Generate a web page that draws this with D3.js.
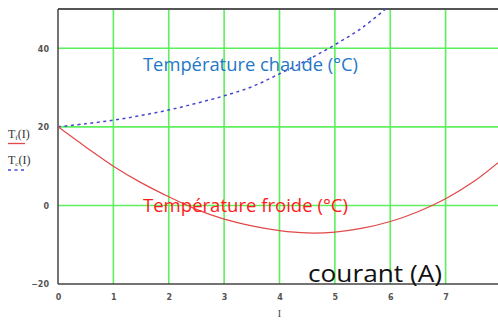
<!DOCTYPE html>
<html>
<head>
<meta charset="utf-8">
<script src="https://cdn.jsdelivr.net/npm/d3@7"></script>
<style>
  body { margin: 0; background: #fff; }
  svg { display: block; }
</style>
</head>
<body>
<svg id="chart"></svg>
<script>
// values
const current = [0, 0.5, 1, 1.5, 2, 2.5, 3, 3.5, 4, 4.5, 5, 5.5, 6, 6.5, 7, 7.5, 8];
const tCold = [20, 14.9, 10, 5.8, 2.2, -1.0, -3.5, -5.2, -6.4, -7, -6.8, -5.8, -4.1, -1.6, 1.7, 6, 11.5];
const currentHot = [0, 0.5, 1, 1.5, 2, 2.5, 3, 3.5, 4, 4.5, 5, 5.5, 6];
const tHot = [20, 20.8, 21.7, 22.9, 24.3, 26, 27.9, 30.2, 33.5, 37, 40.9, 45.3, 51];
const xTicks = [0, 1, 2, 3, 4, 5, 6, 7, 8];
const yTicks = [-20, 0, 20, 40];

// set the dimensions and margins of the graph
const W = 498, H = 320;
const margin = { top: 9, right: -3, bottom: 36, left: 58 };
const width = W - margin.left - margin.right;
const height = H - margin.top - margin.bottom;

const x = d3.scaleLinear().domain([0, 8]).range([0, width]);
const y = d3.scaleLinear().domain([-20, 50]).range([height, 0]);

const root = d3.select("#chart").attr("width", W).attr("height", H);
const svg = root.append("g")
  .attr("transform", "translate(" + margin.left + "," + margin.top + ")");

root.append("defs").append("clipPath").attr("id", "plot")
  .append("rect").attr("x", 0).attr("y", 0).attr("width", width).attr("height", height);

// green grid
svg.selectAll(".vgrid").data(xTicks.filter(d => d > 0)).join("line")
  .attr("x1", d => x(d)).attr("x2", d => x(d))
  .attr("y1", 0).attr("y2", height)
  .attr("stroke", "#5def5d").attr("stroke-width", 1.6);
svg.selectAll(".hgrid").data([0, 20, 40]).join("line")
  .attr("x1", 0).attr("x2", width)
  .attr("y1", d => y(d)).attr("y2", d => y(d))
  .attr("stroke", "#5def5d").attr("stroke-width", 1.6);

// frame
svg.append("line").attr("x1", 0).attr("x2", width).attr("y1", 0).attr("y2", 0)
  .attr("stroke", "#555").attr("stroke-width", 2);
svg.append("line").attr("x1", 0).attr("x2", width).attr("y1", height).attr("y2", height)
  .attr("stroke", "#444").attr("stroke-width", 1.5);
svg.append("line").attr("x1", 0).attr("x2", 0).attr("y1", 0).attr("y2", height)
  .attr("stroke", "#444").attr("stroke-width", 1.5);

// curves
const line = d3.line().curve(d3.curveCatmullRom)
  .x(d => x(d[0])).y(d => y(d[1]));

const plot = svg.append("g").attr("clip-path", "url(#plot)");
plot.append("path")
  .datum(d3.zip(currentHot, tHot))
  .attr("fill", "none")
  .attr("stroke", "#4646cf")
  .attr("stroke-width", 1.5)
  .attr("stroke-dasharray", "3,3.5")
  .attr("d", line);
plot.append("path")
  .datum(d3.zip(current, tCold))
  .attr("fill", "none")
  .attr("stroke", "#e24848")
  .attr("stroke-width", 1.2)
  .attr("d", line);

// axes
const xAxis = svg.append("g")
  .attr("transform", "translate(0," + (height + 7) + ")")
  .call(d3.axisBottom(x).tickValues(xTicks).tickSize(0).tickFormat(d3.format("d")));
const yAxis = svg.append("g")
  .attr("transform", "translate(-6,0)")
  .call(d3.axisLeft(y).tickValues(yTicks).tickSize(0).tickFormat(d3.format("d")));
[xAxis, yAxis].forEach(a => {
  a.select(".domain").remove();
  a.selectAll("text")
    .style("font-family", "DejaVu Sans")
    .style("font-size", "8px")
    .style("font-weight", "bold")
    .attr("fill", "#555");
});
yAxis.selectAll("text").attr("dy", "0.35em");

// axis label
root.append("text")
  .attr("x", margin.left + x(4)).attr("y", 317)
  .attr("text-anchor", "middle")
  .style("font-family", "Liberation Serif").style("font-size", "10px")
  .attr("fill", "#444")
  .text("I");

// legend
const legend = root.append("g")
  .style("font-family", "Liberation Serif").style("font-size", "12px").attr("fill", "#333");
const lt1 = legend.append("text").attr("x", 8).attr("y", 138);
lt1.append("tspan").text("T");
lt1.append("tspan").attr("dy", 2).style("font-size", "7px").text("f");
lt1.append("tspan").attr("dy", -2).text("(I)");
legend.append("line").attr("x1", 8).attr("x2", 25).attr("y1", 143.5).attr("y2", 143.5)
  .attr("stroke", "#e24848").attr("stroke-width", 1.3);
const lt2 = legend.append("text").attr("x", 8).attr("y", 164);
lt2.append("tspan").text("T");
lt2.append("tspan").attr("dy", 2).style("font-size", "7px").text("c");
lt2.append("tspan").attr("dy", -2).text("(I)");
legend.append("line").attr("x1", 8).attr("x2", 26).attr("y1", 170).attr("y2", 170)
  .attr("stroke", "#4646cf").attr("stroke-width", 1.5).attr("stroke-dasharray", "3,3.5");

// annotations
root.append("text")
  .attr("x", 143).attr("y", 71)
  .attr("textLength", 215).attr("lengthAdjust", "spacingAndGlyphs")
  .style("font-family", "Open Sans").style("font-size", "19px")
  .attr("fill", "#1f78c8")
  .text("Température chaude (°C)");
root.append("text")
  .attr("x", 143).attr("y", 212)
  .attr("textLength", 205).attr("lengthAdjust", "spacingAndGlyphs")
  .style("font-family", "Open Sans").style("font-size", "19px")
  .attr("fill", "#ff1a1a")
  .text("Température froide (°C)");
root.append("text")
  .attr("x", 308).attr("y", 282)
  .attr("textLength", 134).attr("lengthAdjust", "spacingAndGlyphs")
  .style("font-family", "Open Sans").style("font-size", "24px")
  .attr("fill", "#111")
  .text("courant (A)");
</script>
</body>
</html>
